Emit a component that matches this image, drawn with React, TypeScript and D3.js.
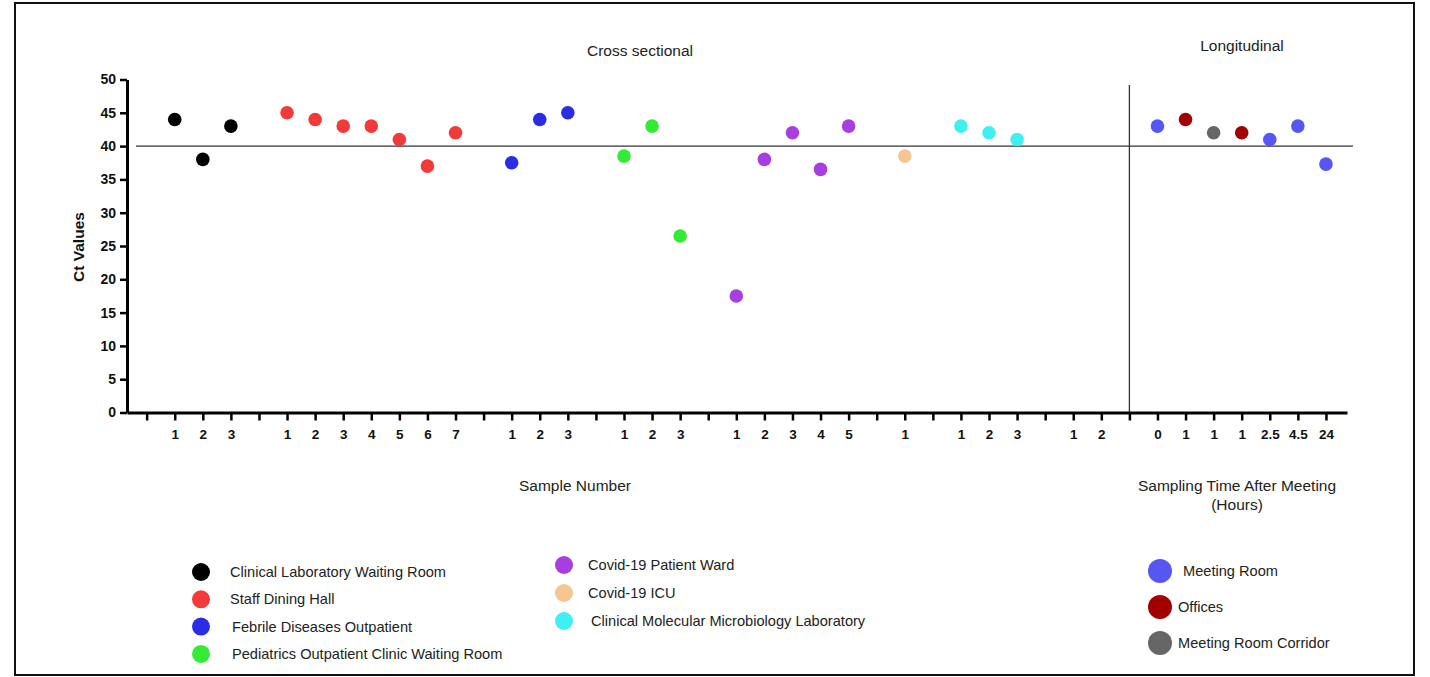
import React, { useEffect, useRef } from 'react';
import * as d3 from 'd3';

// cross sectional groups (Ct values per sample)
const clinicalLabWaiting = [44, 38, 43];
const staffDiningHall = [45, 44, 43, 43, 41, 37, 42];
const febrileOutpatient = [37.5, 44, 45];
const pediatricsWaiting = [38.5, 43, 26.5];
const covidWard = [17.5, 38, 42, 36.5, 43];
const covidIcu = [38.5];
const molecularLab = [43, 42, 41];
const undetectedGroup: number[] = [];

const crossGroups = [
    { name: 'Clinical Laboratory Waiting Room', color: '#000000', samples: 3, values: clinicalLabWaiting },
    { name: 'Staff Dining Hall', color: '#f23a3a', samples: 7, values: staffDiningHall },
    { name: 'Febrile Diseases Outpatient', color: '#2a2ce6', samples: 3, values: febrileOutpatient },
    { name: 'Pediatrics Outpatient Clinic Waiting Room', color: '#35ea35', samples: 3, values: pediatricsWaiting },
    { name: 'Covid-19 Patient Ward', color: '#a93ee0', samples: 5, values: covidWard },
    { name: 'Covid-19 ICU', color: '#f6c692', samples: 1, values: covidIcu },
    { name: 'Clinical Molecular Microbiology Laboratory', color: '#3ff0f0', samples: 3, values: molecularLab },
    { name: '', color: '#000000', samples: 2, values: undetectedGroup },
];

// longitudinal
const hoursLabels = ['0', '1', '1', '1', '2.5', '4.5', '24'];
const hoursLocation = ['meeting', 'offices', 'corridor', 'offices', 'meeting', 'meeting', 'meeting'];
const hoursValues = [43, 44, 42, 42, 41, 43, 37.3];

const locations: Record<string, { name: string; color: string }> = {
    meeting: { name: 'Meeting Room', color: '#5656f2' },
    offices: { name: 'Offices', color: '#a20000' },
    corridor: { name: 'Meeting Room Corridor', color: '#666666' },
};

const yTicks = [0, 5, 10, 15, 20, 25, 30, 35, 40, 45, 50];
const cutoff = 40;

// build category positions
const tickLabels: string[] = [''];
const points: { pos: number; value: number; color: string }[] = [];
crossGroups.forEach((g) => {
    const start = tickLabels.length;
    for (let i = 0; i < g.samples; i++) tickLabels.push(String(i + 1));
    g.values.forEach((v, i) => points.push({ pos: start + i, value: v, color: g.color }));
    tickLabels.push('');
});
const splitPos = tickLabels.length - 1;
const longStart = tickLabels.length;
hoursLabels.forEach((l, i) => {
    tickLabels.push(l);
    points.push({ pos: longStart + i, value: hoursValues[i], color: locations[hoursLocation[i]].color });
});

const font = 'Arial, "Liberation Sans", sans-serif';

const App: React.FC = () => {
    const svgRef = useRef<SVGSVGElement>(null);

    useEffect(() => {
        if (!svgRef.current) return;
        const svg = d3.select(svgRef.current);
        svg.selectAll('*').remove();

        const x = d3.scaleLinear().domain([-0.7, tickLabels.length - 1 + 0.75]).range([127, 1347]);
        const y = d3.scaleLinear().domain([0, 50]).range([412.5, 79.5]);

        // frame
        svg.append('rect')
            .attr('x', 15).attr('y', 3).attr('width', 1399).attr('height', 672)
            .attr('fill', 'none').attr('stroke', '#111').attr('stroke-width', 2);

        // cutoff line & split line
        svg.append('line')
            .attr('x1', 136).attr('x2', 1353)
            .attr('y1', y(cutoff)).attr('y2', y(cutoff))
            .attr('stroke', '#333').attr('stroke-width', 1.3);
        svg.append('line')
            .attr('x1', x(splitPos)).attr('x2', x(splitPos))
            .attr('y1', 85).attr('y2', y(0))
            .attr('stroke', '#333').attr('stroke-width', 1.3);

        // y axis
        const gy = svg.append('g')
            .attr('transform', `translate(${x.range()[0]},0)`)
            .call(d3.axisLeft(y).tickValues(yTicks).tickSize(7).tickSizeOuter(0).tickPadding(4));
        gy.select('.domain').attr('stroke-width', 3);
        gy.selectAll('.tick line').attr('stroke-width', 2.5);
        gy.selectAll('text')
            .style('font-family', font).style('font-size', '14px')
            .style('font-weight', 'bold').style('fill', '#111');

        // x axis
        const gx = svg.append('g')
            .attr('transform', `translate(0,${y(0)})`)
            .call(
                d3.axisBottom(x)
                    .tickValues(d3.range(tickLabels.length))
                    .tickFormat((d) => tickLabels[d as number])
                    .tickSize(8).tickSizeOuter(0).tickPadding(9),
            );
        gx.select('.domain').attr('stroke-width', 3);
        gx.selectAll('.tick line').attr('stroke-width', 2.5);
        gx.selectAll('text')
            .style('font-family', font).style('font-size', '13.5px')
            .style('font-weight', 'bold').style('fill', '#111');

        // points
        svg.append('g')
            .selectAll('circle')
            .data(points)
            .join('circle')
            .attr('cx', (d) => x(d.pos))
            .attr('cy', (d) => y(d.value))
            .attr('r', 6.8)
            .attr('fill', (d) => d.color);

        // titles
        const txt = (tx: number, ty: number, s: string, size = 15.5, anchor = 'middle') =>
            svg.append('text')
                .attr('x', tx).attr('y', ty).attr('text-anchor', anchor)
                .style('font-family', font).style('font-size', `${size}px`)
                .style('fill', '#222').text(s);
        txt(640, 56, 'Cross sectional');
        txt(1242, 51, 'Longitudinal');
        txt(575, 491, 'Sample Number');
        txt(1237, 491, 'Sampling Time After Meeting');
        txt(1237, 510, '(Hours)');

        svg.append('text')
            .attr('transform', 'translate(84,247) rotate(-90)')
            .attr('text-anchor', 'middle')
            .style('font-family', font).style('font-size', '15.5px')
            .style('font-weight', 'bold').style('fill', '#111')
            .text('Ct Values');

        // legends
        const legendItems = crossGroups.filter((g) => g.name);
        const col1 = legendItems.slice(0, 4);
        const col2 = legendItems.slice(4);
        col1.forEach((g, i) => {
            const cy = 572 + i * 27.3;
            svg.append('circle').attr('cx', 201).attr('cy', cy).attr('r', 9).attr('fill', g.color);
            txt(i >= 2 ? 232 : 230, cy + 5, g.name, 14.6, 'start');
        });
        col2.forEach((g, i) => {
            const cy = 565 + i * 28;
            svg.append('circle').attr('cx', 564).attr('cy', cy).attr('r', 9).attr('fill', g.color);
            txt(i === 2 ? 591 : 588, cy + 5, g.name, 14.6, 'start');
        });
        Object.values(locations).forEach((loc, i) => {
            const cy = 571 + i * 36;
            svg.append('circle').attr('cx', 1160).attr('cy', cy).attr('r', 12).attr('fill', loc.color);
            txt(i === 0 ? 1183 : 1178, cy + 5, loc.name, 14.6, 'start');
        });
    }, []);

    return (
        <svg
            ref={svgRef}
            width={1430}
            height={677}
            style={{ position: 'absolute', left: 0, top: 0, display: 'block', background: '#fff' }}
        />
    );
};

export default App;
